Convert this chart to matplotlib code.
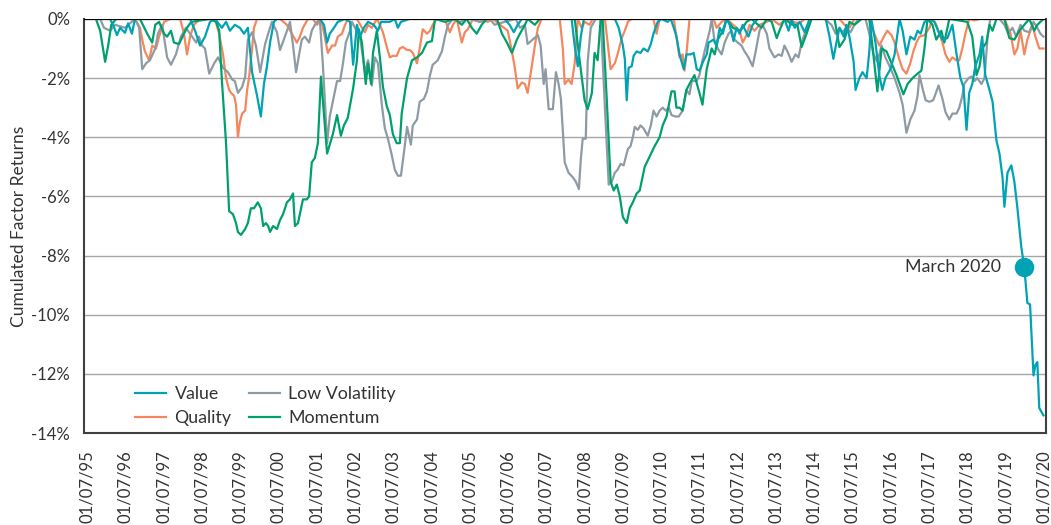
import numpy as np
import matplotlib.pyplot as plt

plt.rcParams['font.family'] = ['Lato', 'DejaVu Sans']

# x values are decimal years (01/07/95 == 1995.5), y values are cumulated returns in %
value_t = [1995.42, 1996.10, 1996.20, 1996.28, 1996.36, 1996.49, 1996.57, 1996.67, 1996.75, 1998.19,
           1998.32, 1998.45, 1998.58, 1998.71, 1998.84, 1999.02, 1999.13, 1999.23, 1999.36, 1999.49,
           1999.60, 1999.70, 1999.81, 1999.94, 2000.04, 2000.12, 2000.20, 2000.28, 2000.38, 2000.46,
           2001.58, 2001.69, 2001.77, 2001.84, 2001.95, 2002.05, 2002.24, 2002.37, 2002.45, 2002.55,
           2002.63, 2002.73, 2002.84, 2002.99, 2003.10, 2003.18, 2003.41, 2003.54, 2003.62, 2003.70,
           2003.93, 2006.41, 2006.54, 2006.65, 2006.75, 2006.86, 2008.16, 2008.24, 2008.32, 2008.40,
           2008.48, 2009.29, 2009.39, 2009.50, 2009.55, 2009.60, 2009.65, 2009.73, 2009.78, 2009.86,
           2009.96, 2010.04, 2010.15, 2010.23, 2010.30, 2010.41, 2010.51, 2010.67, 2010.75, 2010.83,
           2010.90, 2010.98, 2011.09, 2011.16, 2011.27, 2011.35, 2011.43, 2011.50, 2011.61, 2011.69,
           2011.74, 2011.87, 2011.95, 2012.03, 2012.11, 2012.21, 2012.29, 2012.39, 2012.47, 2012.55,
           2012.63, 2012.78, 2012.89, 2013.02, 2013.72, 2013.83, 2013.91, 2013.99, 2014.12, 2014.25,
           2014.38, 2014.80, 2014.90, 2015.00, 2015.08, 2015.16, 2015.27, 2015.34, 2015.42, 2015.53,
           2015.58, 2015.68, 2015.76, 2015.87, 2015.94, 2015.99, 2016.10, 2016.20, 2016.28, 2016.36,
           2016.49, 2016.60, 2016.73, 2016.81, 2016.91, 2017.01, 2017.12, 2017.20, 2017.28, 2017.38,
           2017.51, 2017.64, 2017.77, 2017.85, 2017.98, 2018.11, 2018.22, 2018.32, 2018.40, 2018.48,
           2018.55, 2018.63, 2018.71, 2018.82, 2018.89, 2018.97, 2019.08, 2019.16, 2019.26, 2019.34,
           2019.42, 2019.47, 2019.55, 2019.65, 2019.73, 2019.81, 2019.91, 2019.99, 2020.07, 2020.14,
           2020.23, 2020.28, 2020.33, 2020.38, 2020.49]
value_v = [0, 0, -0.27, -0.55, -0.3, -0.47, -0.15, -0.5, 0, 0,
           -0.4, -0.9, -0.6, -0.1, 0, -0.3, -0.1, -0.4, -0.2, -0.3,
           -0.5, -0.3, -1.8, -2.6, -3.3, -2.2, -1.6, -0.8, -0.1, 0,
           0, -0.2, -0.8, -0.5, -0.3, -0.1, 0, -0.1, -1.55, -0.2,
           -0.6, -0.3, -0.1, -0.2, -0.4, -0.1, -0.1, 0, -0.3, -0.1,
           0, 0, -0.2, -0.45, -0.2, 0, 0, -0.9, -1.6, -0.6,
           0, 0, -0.3, -0.9, -1.35, -2.75, -1.65, -1.6, -1.25, -1.1,
           -1.15, -1.0, -1.1, -0.85, -0.5, -0.1, 0, -0.1, 0, -0.3,
           -0.6, -1.2, -1.7, -1.2, -1.2, -1.15, -1.7, -1.75, -1.4, -1.2,
           -0.8, -0.7, -0.9, -0.3, -0.5, 0, -0.2, -0.75, -0.3, -0.5,
           -0.2, -0.6, -0.2, 0, 0, -0.4, 0, -0.3, -0.1, -0.45,
           0, 0, -0.6, -1.35, -0.8, -0.3, -0.6, -0.2, -0.6, -1.45,
           -2.4, -2.0, -1.8, -2.0, -1.1, 0, -0.8, -1.9, -2.4, -2.0,
           -1.7, -1.2, 0, -0.4, -1.2, -0.6, -0.7, -0.4, -0.5, -0.1,
           0, -0.1, -0.5, -0.7, -0.65, -0.2, -1.2, -2.0, -2.3, -3.75,
           -2.5, -2.2, -1.6, -1.2, -0.6, -1.9, -2.4, -2.8, -4.1, -4.55,
           -5.35, -6.35, -5.2, -4.95, -5.5, -6.4, -7.7, -8.4, -9.6, -9.65,
           -12.05, -11.7, -11.6, -13.15, -13.4]

quality_t = [1995.42, 1996.75, 1996.88, 1996.94, 1997.01, 1997.12, 1997.20, 1997.30, 1997.38, 1997.51,
             1997.67, 1997.93, 1998.03, 1998.11, 1998.19, 1998.29, 1998.45, 1998.84, 1998.95, 1999.05,
             1999.13, 1999.21, 1999.26, 1999.34, 1999.39, 1999.44, 1999.49, 1999.55, 1999.63, 1999.68,
             1999.73, 1999.81, 1999.86, 1999.94, 2000.54, 2000.72, 2000.85, 2000.98, 2001.06, 2001.14,
             2001.27, 2001.40, 2001.51, 2001.61, 2001.71, 2001.79, 2001.90, 2001.98, 2002.05, 2002.16,
             2002.24, 2002.31, 2002.55, 2002.68, 2002.76, 2002.84, 2002.94, 2003.07, 2003.15, 2003.23,
             2003.33, 2003.41, 2003.49, 2003.59, 2003.67, 2003.75, 2003.86, 2003.93, 2004.01, 2004.12,
             2004.19, 2004.27, 2004.38, 2004.46, 2004.53, 2004.64, 2004.85, 2004.90, 2004.98, 2005.06,
             2005.16, 2005.29, 2005.37, 2005.45, 2005.58, 2005.76, 2005.84, 2005.97, 2006.10, 2006.49,
             2006.60, 2006.67, 2006.75, 2006.86, 2006.94, 2007.01, 2007.12, 2007.20, 2007.28, 2007.38,
             2007.85, 2007.93, 2007.98, 2008.08, 2008.16, 2008.24, 2008.32, 2008.42, 2008.50, 2008.63,
             2008.71, 2009.03, 2009.10, 2009.18, 2009.29, 2009.36, 2009.47, 2009.55, 2009.63, 2009.73,
             2010.30, 2010.38, 2010.46, 2010.83, 2010.90, 2010.98, 2011.06, 2011.11, 2011.16, 2011.24,
             2011.87, 2011.95, 2012.08, 2012.21, 2012.55, 2012.63, 2012.73, 2012.81, 2012.94, 2013.07,
             2013.26, 2013.39, 2013.59, 2013.78, 2013.93, 2014.12, 2014.25, 2015.16, 2015.29, 2015.42,
             2015.55, 2015.94, 2016.07, 2016.20, 2016.34, 2016.41, 2016.52, 2016.60, 2016.73, 2016.81,
             2016.91, 2017.01, 2017.09, 2017.17, 2017.25, 2017.38, 2017.51, 2017.59, 2017.69, 2017.77,
             2017.85, 2017.93, 2018.03, 2018.11, 2018.22, 2018.29, 2018.37, 2018.45, 2018.55, 2018.69,
             2018.82, 2019.47, 2019.63, 2019.73, 2019.81, 2019.89, 2019.99, 2020.07, 2020.20, 2020.28,
             2020.38, 2020.49]
quality_v = [0, 0, -0.3, -0.7, -1.1, -1.4, -0.9, -1.0, -0.6, -0.1,
             0, 0, -0.5, -1.2, -0.6, -0.2, 0, 0, -0.5, -1.2,
             -2.0, -2.4, -2.5, -2.6, -2.9, -4.0, -3.5, -3.2, -3.1, -2.4,
             -2.0, -1.0, -0.3, 0, 0, -0.2, -0.5, -0.8, -0.6, -0.3,
             0, 0, -0.2, 0, -0.6, -1.15, -0.9, -0.9, -0.6, -0.5,
             -0.2, 0, 0, -0.3, -0.45, -0.2, -0.3, 0, -0.2, -0.45,
             -0.95, -1.3, -1.25, -1.25, -1.0, -0.95, -1.05, -1.05, -1.15, -1.5,
             -1.0, -0.35, -0.5, -0.4, -0.2, 0, 0, -0.2, -0.45, -0.2,
             0, -0.8, -0.45, -0.35, 0, -0.1, -0.05, -0.1, 0, -0.4,
             -1.1, -1.6, -2.35, -2.15, -2.2, -2.5, -1.6, -0.9, -0.3, 0,
             0, -1.0, -2.2, -2.05, -2.2, -1.5, 0, -0.3, -0.1, -0.2,
             0, 0, -0.8, -1.7, -1.5, -1.2, -0.65, -0.4, -0.1, 0,
             0, -0.5, 0, 0, -0.6, -1.3, -1.2, -1.75, -1.2, 0,
             0, -0.3, -0.1, 0, -0.4, -0.8, -0.55, -0.2, -0.4, -0.2,
             -0.1, 0, -0.2, 0, -0.1, -0.15, 0, 0, -0.2, -0.3,
             0, 0, -0.5, -0.9, -0.55, -0.4, -0.55, -0.8, -1.4, -1.7,
             -1.85, -1.5, -1.1, -0.8, -0.6, -0.55, -0.3, 0, -0.2, -0.5,
             -0.8, -1.2, -1.45, -1.3, -1.4, -1.4, -1.0, -0.5, 0, -0.05,
             0, 0, -0.5, -1.2, -1.0, -0.4, -1.2, -0.7, -0.2, -0.6,
             -1.0, -1.0]

low_vol_t = [1995.42, 1995.84, 1995.94, 1996.10, 1996.23, 1996.49, 1996.75, 1996.86, 1996.94, 1997.04,
             1997.14, 1997.28, 1997.35, 1997.46, 1997.59, 1997.69, 1997.82, 1997.95, 1998.08, 1998.19,
             1998.35, 1998.42, 1998.50, 1998.58, 1998.69, 1998.82, 1998.92, 1999.05, 1999.18, 1999.29,
             1999.36, 1999.44, 1999.55, 1999.63, 1999.70, 1999.81, 1999.91, 2000.02, 2000.15, 2000.23,
             2000.33, 2000.46, 2000.54, 2000.64, 2000.75, 2000.80, 2000.88, 2000.96, 2001.04, 2001.11,
             2001.19, 2001.30, 2001.37, 2001.45, 2001.58, 2001.66, 2001.71, 2001.77, 2001.84, 2001.92,
             2002.03, 2002.11, 2002.18, 2002.26, 2002.37, 2002.42, 2002.50, 2002.63, 2002.76, 2002.84,
             2002.94, 2003.02, 2003.10, 2003.20, 2003.28, 2003.36, 2003.46, 2003.54, 2003.62, 2003.70,
             2003.78, 2003.86, 2003.96, 2004.01, 2004.12, 2004.19, 2004.30, 2004.38, 2004.46, 2004.53,
             2004.66, 2004.77, 2004.85, 2004.93, 2005.06, 2005.24, 2005.50, 2005.76, 2006.02, 2006.15,
             2006.41, 2006.70, 2006.81, 2006.94, 2007.01, 2007.14, 2007.28, 2007.35, 2007.43, 2007.48,
             2007.56, 2007.67, 2007.75, 2007.82, 2007.88, 2007.93, 2007.98, 2008.08, 2008.19, 2008.27,
             2008.35, 2008.40, 2008.45, 2008.53, 2008.58, 2008.66, 2008.79, 2008.92, 2009.03, 2009.13,
             2009.21, 2009.29, 2009.36, 2009.44, 2009.52, 2009.63, 2009.70, 2009.76, 2009.81, 2009.89,
             2009.96, 2010.04, 2010.15, 2010.23, 2010.30, 2010.38, 2010.46, 2010.54, 2010.62, 2010.70,
             2010.77, 2010.88, 2010.96, 2011.06, 2011.16, 2011.24, 2011.30, 2011.43, 2011.50, 2011.58,
             2011.69, 2011.77, 2011.82, 2011.90, 2011.98, 2012.08, 2012.16, 2012.26, 2012.34, 2012.42,
             2012.50, 2012.60, 2012.68, 2012.78, 2012.89, 2012.97, 2013.07, 2013.15, 2013.26, 2013.33,
             2013.46, 2013.57, 2013.65, 2013.72, 2013.80, 2013.91, 2014.01, 2014.09, 2014.17, 2014.25,
             2014.33, 2014.43, 2014.77, 2014.95, 2015.06, 2015.16, 2015.24, 2015.34, 2015.45, 2015.55,
             2015.66, 2015.84, 2015.94, 2016.05, 2016.15, 2016.26, 2016.36, 2016.47, 2016.60, 2016.73,
             2016.81, 2016.91, 2017.01, 2017.12, 2017.20, 2017.25, 2017.33, 2017.41, 2017.51, 2017.61,
             2017.75, 2017.85, 2017.93, 2018.03, 2018.11, 2018.22, 2018.29, 2018.37, 2018.42, 2018.53,
             2018.61, 2018.69, 2018.76, 2018.87, 2018.95, 2019.03, 2019.10, 2019.34, 2019.47, 2019.57,
             2019.68, 2019.78, 2019.89, 2019.99, 2020.12, 2020.23, 2020.33, 2020.41, 2020.49]
low_vol_v = [0, 0, -0.3, -0.4, -0.2, -0.3, 0, -0.3, -1.7, -1.5,
             -1.4, -1.0, -0.5, -0.2, -1.3, -1.55, -1.2, -0.6, -0.3, -0.5,
             -0.8, -0.6, -0.9, -1.0, -1.85, -1.5, -1.3, -1.65, -1.8, -2.05,
             -2.1, -2.5, -2.3, -1.95, -0.7, -0.45, -0.9, -1.8, -0.85, -0.5,
             -0.1, -0.45, -1.05, -0.7, -0.3, -0.1, -0.9, -1.8, -1.2, -0.7,
             -0.6, -0.8, -0.4, -0.2, 0, -1.55, -2.7, -4.2, -3.3, -2.8,
             -2.1, -2.1, -1.55, -0.8, -0.4, -0.1, -0.3, -0.6, -1.8, -1.4,
             -2.25, -1.3, -1.5, -2.9, -3.7, -4.05, -4.6, -5.1, -5.3, -5.3,
             -4.5, -3.65, -4.25, -3.6, -3.4, -2.8, -2.7, -2.45, -1.9, -1.55,
             -1.4, -1.1, -0.6, -0.2, 0, -0.1, 0, -0.1, 0, -0.2,
             -0.1, 0, -0.3, -0.2, -0.85, -0.7, -0.55, -0.9, -2.2, -1.7,
             -3.05, -3.05, -1.8, -2.2, -2.7, -3.75, -4.85, -5.2, -5.35, -5.5,
             -5.75, -4.75, -4.05, -4.05, -1.45, -0.3, 0, 0, -3.0, -5.6,
             -5.5, -5.2, -5.1, -4.9, -4.95, -4.4, -4.3, -4.0, -3.65, -3.75,
             -3.6, -3.7, -3.95, -3.6, -3.1, -3.3, -3.1, -3.0, -3.1, -3.0,
             -3.25, -3.3, -3.3, -3.1, -2.4, -2.55, -2.1, -2.1, -1.9, -1.4,
             -0.8, -0.4, 0, -0.8, -1.0, -1.2, -0.8, -0.5, -0.4, -0.7,
             -0.8, -0.9, -1.1, -1.3, -1.6, -1.1, -0.4, -0.2, -0.5, -1.0,
             -1.3, -1.2, -1.25, -0.9, -1.1, -1.45, -1.2, -1.3, -0.8, -0.5,
             -0.2, 0, 0, -0.2, -0.5, -0.3, -0.45, -0.3, -0.45, -0.2,
             0, 0, -0.5, -1.2, -1.45, -0.9, -1.3, -1.6, -2.0, -2.5,
             -2.9, -3.85, -3.4, -3.1, -2.6, -1.9, -2.35, -2.75, -2.8, -2.75,
             -2.25, -2.7, -3.15, -3.4, -3.2, -3.2, -3.0, -2.6, -2.2, -2.0,
             -1.95, -2.1, -2.0, -2.2, -2.0, -0.6, 0, 0, -0.2, -0.5,
             -0.3, -0.6, -0.2, -0.4, -0.45, -0.1, -0.3, -0.5, -0.6]

momentum_t = [1995.42, 1995.73, 1995.84, 1995.97, 1996.05, 1996.13, 1996.26, 1996.88, 1997.07, 1997.20,
              1997.28, 1997.38, 1997.51, 1997.59, 1997.69, 1997.77, 1997.90, 1998.03, 1998.11, 1998.22,
              1998.71, 1998.87, 1998.95, 1999.02, 1999.13, 1999.21, 1999.31, 1999.39, 1999.44, 1999.52,
              1999.63, 1999.70, 1999.78, 1999.86, 1999.96, 2000.04, 2000.10, 2000.17, 2000.23, 2000.28,
              2000.36, 2000.46, 2000.54, 2000.62, 2000.72, 2000.80, 2000.88, 2000.93, 2001.01, 2001.14,
              2001.24, 2001.30, 2001.37, 2001.45, 2001.53, 2001.61, 2001.77, 2001.92, 2002.03, 2002.13,
              2002.21, 2002.31, 2002.45, 2002.55, 2002.60, 2002.68, 2002.78, 2002.84, 2002.92, 2002.97,
              2003.07, 2003.15, 2003.23, 2003.33, 2003.41, 2003.49, 2003.59, 2003.67, 2003.72, 2003.86,
              2003.99, 2004.12, 2004.25, 2004.38, 2004.51, 2004.59, 2004.85, 2005.11, 2005.29, 2005.42,
              2005.55, 2005.68, 2005.81, 2005.94, 2006.21, 2006.34, 2006.47, 2006.60, 2006.73, 2006.81,
              2006.94, 2007.01, 2007.20, 2007.33, 2008.24, 2008.37, 2008.50, 2008.58, 2008.69, 2008.76,
              2008.84, 2008.92, 2008.97, 2009.08, 2009.18, 2009.26, 2009.34, 2009.42, 2009.50, 2009.60,
              2009.68, 2009.76, 2009.86, 2009.94, 2010.07, 2010.20, 2010.33, 2010.46, 2010.54, 2010.64,
              2010.77, 2010.85, 2010.90, 2010.98, 2011.06, 2011.16, 2011.24, 2011.37, 2011.50, 2011.58,
              2011.69, 2011.82, 2011.90, 2011.98, 2012.11, 2012.21, 2012.37, 2012.55, 2012.63, 2012.73,
              2012.86, 2013.12, 2013.26, 2013.39, 2013.52, 2013.59, 2013.72, 2013.93, 2014.06, 2014.17,
              2014.30, 2014.43, 2015.03, 2015.16, 2015.29, 2015.42, 2015.55, 2015.74, 2015.94, 2016.02,
              2016.15, 2016.26, 2016.39, 2016.52, 2016.65, 2016.83, 2016.94, 2017.07, 2017.20, 2017.30,
              2017.38, 2017.46, 2017.59, 2017.69, 2017.82, 2017.90, 2018.03, 2018.50, 2018.63, 2018.74,
              2018.82, 2018.89, 2019.00, 2019.08, 2019.16, 2019.26, 2019.47, 2019.60, 2019.73, 2019.86,
              2019.99, 2020.12, 2020.25, 2020.33, 2020.49]
momentum_v = [0, 0, -0.4, -1.45, -0.9, -0.2, 0, 0, -0.5, -0.8,
              -0.2, -0.1, -0.5, -0.6, -0.4, -0.8, -0.85, -0.5, -0.3, -0.1,
              0, -0.1, -0.4, -2.05, -4.2, -6.5, -6.6, -6.9, -7.2, -7.3,
              -7.1, -6.9, -6.4, -6.4, -6.2, -6.4, -7.0, -6.9, -7.0, -7.2,
              -7.0, -7.1, -6.8, -6.6, -6.2, -6.1, -5.9, -7.0, -6.9, -6.1,
              -6.1, -6.0, -4.85, -4.7, -4.2, -1.95, -4.55, -3.9, -3.25, -3.95,
              -3.6, -3.35, -2.35, -1.4, -0.35, -0.8, -2.2, -1.5, -2.2, -1.15,
              -0.4, -1.3, -2.3, -2.95, -3.25, -3.9, -4.2, -4.2, -3.2, -2.0,
              -1.4, -1.3, -1.15, -0.8, -0.75, 0, -0.1, 0, -0.2, 0,
              -0.3, -0.5, -0.2, 0, 0, -0.5, -0.8, -1.15, -0.7, -0.5,
              -0.2, 0, -0.2, 0, 0, -1.4, -2.75, -3.05, -2.5, -1.15,
              -1.4, 0, 0, -2.75, -5.5, -5.8, -5.6, -6.0, -6.7, -6.9,
              -6.4, -6.2, -5.9, -5.8, -5.0, -4.65, -4.3, -4.0, -3.6, -3.3,
              -2.45, -2.45, -3.0, -3.0, -3.1, -2.4, -2.2, -1.9, -2.5, -2.9,
              -1.7, -1.0, -1.2, -0.7, -0.4, 0, -0.3, -0.4, -0.3, -0.1,
              0, -0.3, 0, -0.1, -0.65, -0.4, 0, -0.2, -0.2, -0.95,
              -0.5, 0, 0, -0.95, -0.7, -0.1, -0.2, 0, 0, -0.9,
              -2.45, -1.0, -1.1, -1.5, -1.9, -2.55, -2.2, -2.0, -1.85, -1.75,
              -1.0, 0, -0.2, -0.7, -0.4, -0.8, 0, -0.1, -0.6, -1.9,
              -1.6, -1.0, -0.8, -0.2, -0.4, 0, 0, -0.65, -0.7, -0.4,
              -0.2, 0, -0.4, -0.2, 0]

marker_t = 2019.99
marker_v = -8.4
marker_label = 'March 2020'

tick_years = np.arange(1995.5, 2021.0, 1.0)
tick_labels = ['01/07/%02d' % (int(y) % 100) for y in tick_years]

colors = {'Value': '#00A3B4', 'Quality': '#F4875E',
          'Low Volatility': '#8E9BA4', 'Momentum': '#00A06E'}

fig = plt.figure(figsize=(10.51, 5.25), dpi=100)
ax = fig.add_axes([0.080, 0.175, 0.915, 0.789])

# draw order: quality, low vol, momentum, value
l_q, = ax.plot(quality_t, quality_v, color=colors['Quality'], lw=1.6, label='Quality', zorder=3)
l_lv, = ax.plot(low_vol_t, low_vol_v, color=colors['Low Volatility'], lw=1.6, label='Low Volatility', zorder=3)
l_m, = ax.plot(momentum_t, momentum_v, color=colors['Momentum'], lw=1.6, label='Momentum', zorder=4)
l_v, = ax.plot(value_t, value_v, color=colors['Value'], lw=1.6, label='Value', zorder=5)

ax.plot([marker_t], [marker_v], 'o', color=colors['Value'], ms=13, zorder=6)
ax.annotate(marker_label, (marker_t, marker_v), xytext=(-17, 0), textcoords='offset points',
            ha='right', va='center', fontsize=12.8, color='#333333')

ax.set_ylim(-14, 0)
ax.set_xlim(1995.42, 2020.55)
ax.set_yticks(np.arange(-14, 1, 2))
ax.set_yticklabels(['%d%%' % v for v in np.arange(-14, 1, 2)])
ax.set_xticks(tick_years)
ax.set_xticklabels(tick_labels, rotation=90)
ax.tick_params(axis='both', length=0, labelsize=12, labelcolor='#333333')
ax.tick_params(axis='x', pad=12)
ax.tick_params(axis='y', pad=10)

ax.yaxis.grid(True, color='#A6A6A6', lw=1)
ax.set_axisbelow(True)
ax.axhline(0, color='black', lw=1.5, zorder=7)
for side in ['left', 'bottom', 'right']:
    ax.spines[side].set_color('#404040')
    ax.spines[side].set_linewidth(1.5)
ax.spines['top'].set_visible(False)

ax.set_ylabel('Cumulated Factor Returns', fontsize=12.5, color='#333333', labelpad=3)

ax.legend(handles=[l_v, l_q, l_lv, l_m], ncol=2, loc='lower left', bbox_to_anchor=(0.046, 0.0),
          borderaxespad=0, frameon=False, fontsize=12.8, handlelength=1.7, handletextpad=0.5,
          columnspacing=1.0, labelspacing=0.45, labelcolor='#333333')

fig.savefig('out.png', dpi=100)
